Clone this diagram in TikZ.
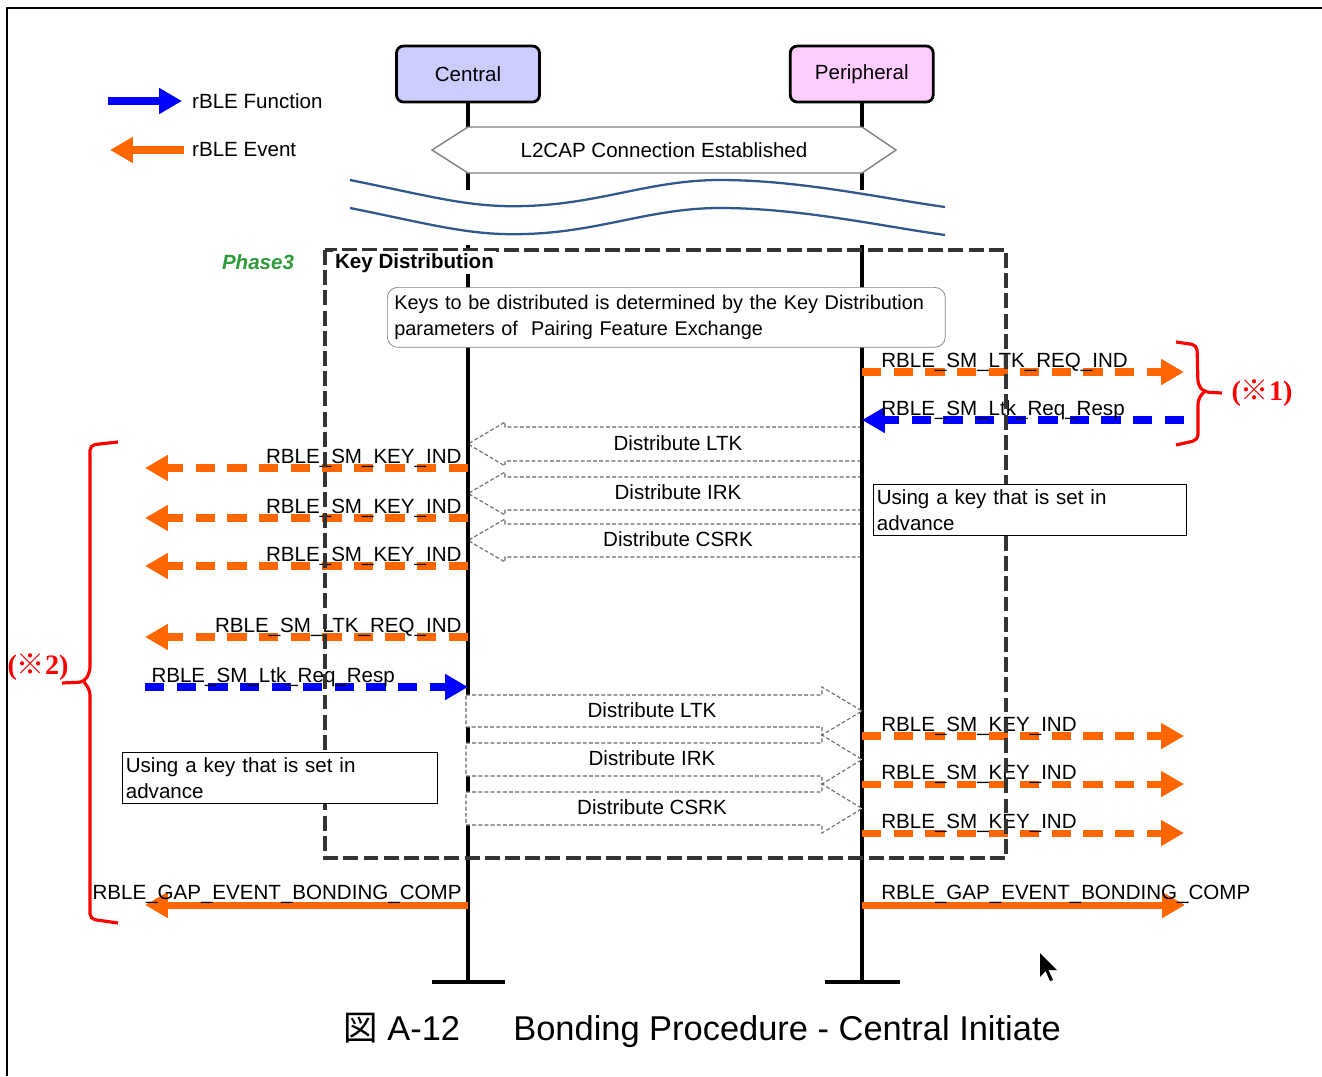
\documentclass[tikz,border=0pt]{standalone}
\usepackage{fontspec}
\setmainfont{Liberation Sans}
\newfontfamily\cjkfont{Noto Sans CJK JP}
\newfontfamily\redserif{Liberation Serif}
\usetikzlibrary{arrows.meta,positioning}
\definecolor{fncol}{HTML}{0000FF}
\definecolor{evcol}{HTML}{FF6600}
\definecolor{centralcol}{HTML}{CCCCFF}
\definecolor{periphcol}{HTML}{FFCCFF}
\definecolor{phasecol}{HTML}{2E9A3A}
\definecolor{wavecol}{HTML}{30588C}
\newcommand{\mainsize}{\fontsize{11.7}{14.7}\selectfont}
\newcommand{\capsize}{\fontsize{19.6}{23}\selectfont}

\begin{document}
\begin{tikzpicture}[x=0.02cm, y=-0.02cm, font=\mainsize,
  actor/.style={draw, line width=1.6pt, rounded corners=4pt,
                minimum width=2.86cm, minimum height=1.12cm, font=\mainsize},
  life/.style={line width=2.3pt},
  fnarr/.style={draw=fncol, line width=4pt, -{Triangle[length=13pt,width=14pt]}},
  evarr/.style={draw=evcol, line width=4pt, -{Triangle[length=13pt,width=14pt]}},
  dsh/.style={dash pattern=on 11pt off 7pt},
  lbl/.style={inner sep=0pt, font=\mainsize},
  keyarr/.style={draw=black!60, fill=white, line width=0.6pt, dash pattern=on 2.2pt off 1.3pt},
  note/.style={draw, fill=white, align=left, anchor=north west,
               inner xsep=2pt, inner ysep=2pt, font=\mainsize},
  brk/.style={draw=red, line width=1.8pt, rounded corners=3pt},
  redlbl/.style={text=red, inner sep=0pt, font=\redserif\bfseries\fontsize{16}{18}\selectfont}
]
\useasboundingbox (0,0) rectangle (1322,1076);
% frame
\draw[line width=1.5pt] (1322,8) -- (7,8) -- (7,1076);

% legend
\coordinate (fnA) at (108,101);
\coordinate (fnB) at (182,101);
\coordinate (evA) at (184,150);
\coordinate (evB) at (110,150);
\draw[fnarr, line width=4.5pt] (fnA) -- (fnB);
\draw[evarr, line width=4.5pt] (evA) -- (evB);
\node[anchor=west] (lgfn) at (186,101) {rBLE Function};
\node[anchor=west] (lgev) at (186,150) {rBLE Event};

% actors
\node[actor, fill=centralcol] (central) at (468,74) {Central};
\node[actor, fill=periphcol, right=4.96cm of central] (periph) {Peripheral};

% lifelines above the break
\coordinate (cbrk) at (central |- 0,190);
\coordinate (pbrk) at (periph |- 0,190);
\draw[life] (central.south) -- (cbrk);
\draw[life] (periph.south) -- (pbrk);
\draw[draw=gray, fill=white, line width=0.8pt] (432,150) -- (468,127) -- (862,127)
  -- (896,150) -- (862,173) -- (468,173) -- cycle;
\node (l2cap) at (664,150) {L2CAP Connection Established};

% break marks
\foreach \dy in {0,28}
  \draw[wavecol, line width=1.3pt] (350,180+\dy) .. controls (430,196+\dy) and (470,208+\dy) .. (525,206+\dy)
    .. controls (600,204+\dy) and (650,180+\dy) .. (720,180+\dy)
    .. controls (800,180+\dy) and (880,198+\dy) .. (945,207+\dy);

% keys sent by the peripheral
\foreach \tp/\bt/\key in {427/461/LTK, 477/510/IRK, 524/557/CSRK}{
  \draw[keyarr] (862,\tp) -- (505,\tp) -- (505,\tp-5) -- (468,{(\tp+\bt)/2})
    -- (505,\bt+5) -- (505,\bt) -- (862,\bt) -- cycle;
  \node (pkey\key) at (678,{(\tp+\bt)/2-1}) {Distribute \key};
}

% lifelines below the break
\coordinate (ctop) at (central |- 0,245);
\coordinate (cend) at (central |- 0,982);
\coordinate (ptop) at (periph |- 0,245);
\coordinate (pend) at (periph |- 0,982);
\draw[life] (ctop) -- (cend);
\draw[life] (ptop) -- (pend);
\draw[life] ([xshift=-36*0.02cm]cend) -- ([xshift=37*0.02cm]cend);
\draw[life] ([xshift=-37*0.02cm]pend) -- ([xshift=38*0.02cm]pend);

% keys sent by the central
\foreach \tp/\bt/\key in {695/727/LTK, 743/776/IRK, 792/825/CSRK}{
  \draw[keyarr] (466,\tp) -- (822,\tp) -- (822,\tp-8) -- (862,{(\tp+\bt)/2})
    -- (822,\bt+8) -- (822,\bt) -- (466,\bt) -- cycle;
  \node (ckey\key) at (652,{(\tp+\bt)/2-1}) {Distribute \key};
}

% messages on the central side
\foreach \y/\txt [count=\i] in {468/RBLE\_SM\_KEY\_IND, 518/RBLE\_SM\_KEY\_IND,
    566/RBLE\_SM\_KEY\_IND, 637/RBLE\_SM\_LTK\_REQ\_IND}{
  \coordinate (cm\i) at (468,\y);
  \coordinate (lm\i) at (145,\y);
  \draw[evarr, dsh] (cm\i) -- (lm\i)
    node[lbl, pos=0, anchor=base east, xshift=-1.7pt, yshift=2.4pt] {\txt};
}
\coordinate (lq) at (145,687);
\coordinate (cq) at (468,687);
\draw[fnarr, dsh] (lq) -- (cq)
  node[lbl, pos=0, anchor=base west, xshift=1.7pt, yshift=2.4pt] {RBLE\_SM\_Ltk\_Req\_Resp};
\coordinate (cbd) at (468,905);
\coordinate (lbd) at (145,905);
\draw[evarr] (cbd) -- (lbd)
  node[lbl, pos=0, anchor=base east, xshift=-1.7pt, yshift=3pt] {RBLE\_GAP\_EVENT\_BONDING\_COMP};

% messages on the peripheral side
\foreach \y/\txt [count=\i] in {372/RBLE\_SM\_LTK\_REQ\_IND, 736/RBLE\_SM\_KEY\_IND,
    784/RBLE\_SM\_KEY\_IND, 833/RBLE\_SM\_KEY\_IND}{
  \coordinate (pm\i) at (862,\y);
  \coordinate (rm\i) at (1184,\y);
  \draw[evarr, dsh] (pm\i) -- (rm\i)
    node[lbl, pos=0, anchor=base west, xshift=9pt, yshift=2.8pt] {\txt};
}
\coordinate (rq) at (1184,420);
\coordinate (pq) at (862,420);
\draw[fnarr, dsh] (rq) -- (pq)
  node[lbl, pos=1, anchor=base west, xshift=9pt, yshift=2.8pt] {RBLE\_SM\_Ltk\_Req\_Resp};
\coordinate (pbd) at (862,905);
\coordinate (rbd) at (1185,905);
\draw[evarr] (pbd) -- (rbd)
  node[lbl, pos=0, anchor=base west, xshift=9pt, yshift=3pt] {RBLE\_GAP\_EVENT\_BONDING\_COMP};

% key distribution phase
\draw[black!80, line width=2pt, dash pattern=on 8.5pt off 3pt] (325,250) rectangle (1006,858);
\node[anchor=north west, fill=white, inner sep=1pt, font=\mainsize\bfseries] (kdlbl) at (333,251) {Key Distribution};
\node[font=\mainsize\bfseries\itshape, text=phasecol] (phase) at (258,262) {Phase3};

% notes
\node[note, draw=gray, rounded corners=6pt, inner xsep=4pt, text width=10.88cm,
      minimum height=1.2cm, font=\fontsize{11.3}{14.7}\selectfont] (kdnote) at (387,287)
  {Keys to be distributed is determined by the Key Distribution\\parameters of\ \ Pairing Feature Exchange};
\node[note, text width=6.12cm, minimum height=1.02cm] (pnote) at (873,484) {Using a key that is set in\\advance};
\node[note, text width=6.16cm, minimum height=1.02cm] (cnote) at (122,752) {Using a key that is set in\\advance};

% remarks
\draw[brk] (1176,342) -- (1197,345) -- (1198,385) -- (1204,392) -- (1222,393);
\draw[brk] (1204,392) -- (1198,399) -- (1198,440) -- (1176,445);
\node[redlbl] (rem1) at (1262,393) {({\cjkfont ※}1)};
\draw[brk] (118,442) -- (90,445) -- (90,672) -- (84,682) -- (62,683);
\draw[brk] (84,682) -- (90,690) -- (90,919) -- (118,923);
\node[redlbl] (rem2) at (38,667) {({\cjkfont ※}2)};

% caption
\node[anchor=base west, inner sep=0pt, font=\capsize] (fignum) at (343,1040) {{\cjkfont 図} A-12};
\node[anchor=base west, inner sep=0pt, font=\capsize] (figtitle) at (513,1040) {Bonding Procedure - Central Initiate};

% pointer
\fill (1040,953) -- (1040,977) -- (1045.6,971) -- (1050,981) -- (1053,980) -- (1048.4,970) -- (1057,970) -- cycle;
\end{tikzpicture}
\end{document}
